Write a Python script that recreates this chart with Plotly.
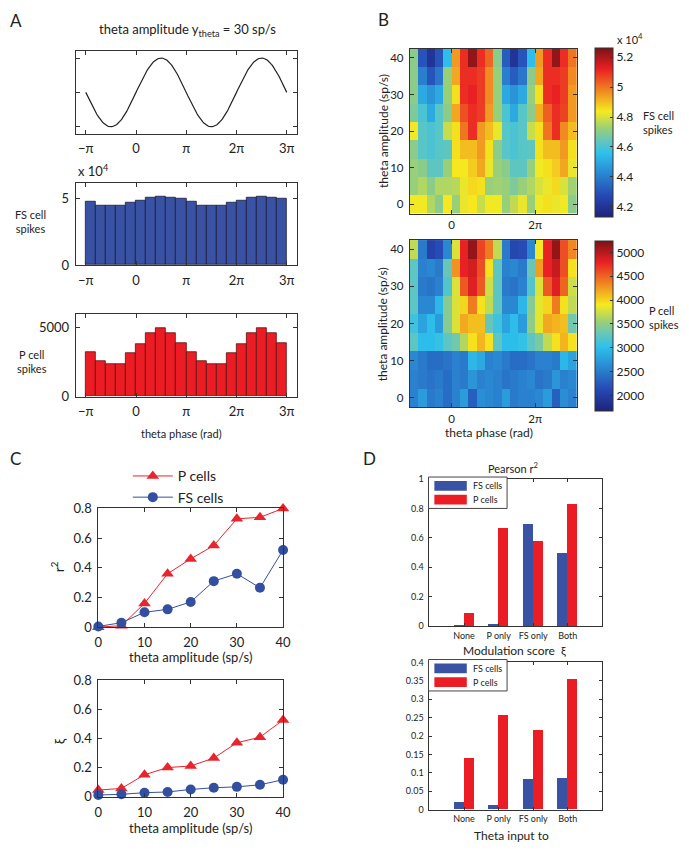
import numpy as np
import plotly.graph_objects as go

W, H = 689, 853
FONT = "Lato"

# ---------------- data ----------------
# Panel A: phase-bin centres (in units of pi) and spike histograms
phase_bins_pi = [-0.9, -0.7, -0.5, -0.3, -0.1, 0.1, 0.3, 0.5, 0.7, 0.9,
                 1.1, 1.3, 1.5, 1.7, 1.9, 2.1, 2.3, 2.5, 2.7, 2.9]
fs_hist = [47600, 44900, 44600, 44900, 47100, 48500, 51000, 51500, 50700, 49800,
           47600, 44900, 44600, 44900, 47100, 48500, 51000, 51500, 50700, 49800]
p_hist = [3170, 2535, 2370, 2370, 3120, 3755, 4575, 4930, 4555, 3875,
          3170, 2535, 2370, 2370, 3120, 3755, 4575, 4930, 4555, 3875]
phase_tick_labels = ["\u2212\u03c0", "0", "\u03c0", "2\u03c0", "3\u03c0"]

# Panel B: theta amplitude rows (sp/s) x phase columns
amp_levels = [0, 5, 10, 15, 20, 25, 30, 35, 40]
fs_heat = [  # x 10^4 spikes
    [4.83, 4.83, 4.75, 4.70, 4.84, 4.72, 4.82, 4.84, 4.78, 4.83, 4.83, 4.72, 4.77, 4.82, 4.72, 4.83, 4.85, 4.82, 4.83, 4.70],
    [4.72, 4.75, 4.70, 4.75, 4.75, 4.76, 4.82, 4.86, 4.85, 4.72, 4.73, 4.72, 4.68, 4.72, 4.75, 4.80, 4.82, 4.86, 4.80, 4.73],
    [4.72, 4.70, 4.63, 4.63, 4.72, 4.84, 4.84, 4.88, 4.93, 4.82, 4.72, 4.70, 4.63, 4.63, 4.72, 4.83, 4.85, 4.88, 4.93, 4.82],
    [4.70, 4.62, 4.60, 4.62, 4.63, 4.85, 4.90, 4.90, 4.95, 4.85, 4.70, 4.62, 4.60, 4.62, 4.63, 4.85, 4.90, 4.90, 4.95, 4.85],
    [4.83, 4.62, 4.60, 4.62, 4.78, 4.85, 5.00, 5.10, 4.95, 4.90, 4.82, 4.62, 4.60, 4.62, 4.78, 4.85, 5.00, 5.10, 4.97, 4.90],
    [4.68, 4.60, 4.50, 4.62, 4.70, 4.93, 5.05, 5.10, 5.08, 4.95, 4.72, 4.60, 4.50, 4.62, 4.70, 4.92, 5.03, 5.10, 5.07, 4.95],
    [4.70, 4.50, 4.45, 4.50, 4.72, 4.85, 5.10, 5.12, 5.08, 4.97, 4.72, 4.50, 4.45, 4.50, 4.72, 4.85, 5.10, 5.12, 5.08, 4.95],
    [4.70, 4.40, 4.30, 4.38, 4.72, 4.93, 5.10, 5.10, 5.08, 4.97, 4.72, 4.40, 4.32, 4.38, 4.70, 4.93, 5.10, 5.10, 5.08, 4.97],
    [4.70, 4.30, 4.20, 4.30, 4.55, 4.95, 5.10, 5.23, 5.10, 5.02, 4.70, 4.32, 4.20, 4.30, 4.55, 4.95, 5.10, 5.23, 5.10, 5.00],
]
p_heat = [
    [2550, 2750, 2500, 2550, 2400, 2550, 2750, 2300, 2650, 2600, 2550, 2750, 2500, 2550, 2550, 2600, 2750, 2300, 2650, 2550],
    [2550, 2500, 2450, 2500, 2400, 2550, 2500, 2700, 2550, 2600, 2550, 2450, 2500, 2550, 2600, 2450, 2500, 2700, 2550, 2600],
    [2600, 2500, 2400, 2400, 2450, 2550, 2500, 2950, 2850, 2550, 2600, 2500, 2400, 2400, 2450, 2550, 2550, 2500, 2950, 2800],
    [3250, 3000, 3000, 3050, 3250, 3350, 3650, 3950, 4150, 3950, 3250, 3000, 3000, 3050, 3250, 3400, 3700, 3950, 4150, 3950],
    [3100, 2800, 3000, 2750, 3450, 3800, 4200, 4100, 4100, 3300, 3100, 2800, 3000, 2750, 3500, 3850, 4200, 4150, 4100, 3350],
    [3250, 2600, 2600, 2950, 3450, 3800, 4000, 4400, 3950, 3700, 3250, 2600, 2600, 2950, 3450, 3850, 4000, 4400, 3950, 3700],
    [3250, 2500, 2450, 2550, 3200, 3800, 4550, 4850, 4550, 3750, 3250, 2500, 2450, 2550, 3200, 3800, 4550, 4850, 4500, 3750],
    [3250, 2550, 2600, 2500, 3300, 4300, 4800, 4900, 4600, 3950, 3250, 2550, 2600, 2500, 3300, 4250, 4800, 4950, 4600, 3950],
    [3700, 2500, 2050, 2150, 2600, 3800, 4800, 5150, 4650, 4400, 3700, 2500, 2100, 2150, 2600, 3900, 4800, 5150, 4600, 4350],
]

# Panel C
amplitudes = [0, 5, 10, 15, 20, 25, 30, 35, 40]
r2_p = [0.0, 0.01, 0.16, 0.36, 0.46, 0.55, 0.73, 0.74, 0.80]
r2_fs = [0.005, 0.03, 0.10, 0.12, 0.17, 0.31, 0.36, 0.265, 0.52]
xi_p = [0.047, 0.058, 0.152, 0.201, 0.212, 0.266, 0.371, 0.409, 0.527]
xi_fs = [0.013, 0.018, 0.029, 0.034, 0.051, 0.063, 0.069, 0.083, 0.118]

# Panel D
input_groups = ["None", "P only", "FS only", "Both"]
pearson_fs = [0.002, 0.016, 0.696, 0.50]
pearson_p = [0.087, 0.669, 0.58, 0.831]
mod_fs = [0.0195, 0.0115, 0.083, 0.084]
mod_p = [0.138, 0.256, 0.215, 0.353]

# ---------------- styling ----------------
BLUE = "#3a52a3"
RED = "#ec1c24"
LINE_RED = "#e8242c"
LINE_BLUE = "#3350a0"
AX = "#333333"
JET = [[0.0, "rgb(30,34,120)"], [0.125, "rgb(38,72,180)"], [0.375, "rgb(45,192,236)"],
       [0.45, "rgb(100,198,188)"], [0.52, "rgb(150,206,125)"], [0.625, "rgb(246,234,30)"],
       [0.875, "rgb(234,32,36)"], [1.0, "rgb(122,18,22)"]]

PI = np.pi
phase_centres = [c * PI for c in phase_bins_pi]
phase_grid = np.linspace(-PI, 3 * PI, 241)
theta_wave = np.sin(phase_grid)


def px(x):
    return x / W


def py(y):
    return 1 - y / H


def axis(x0, x1, y0, y1):
    return [px(x0), px(x1)], [py(y1), py(y0)]


def base(**kw):
    d = dict(showline=True, linecolor=AX, linewidth=1, mirror="ticks", ticks="inside",
             ticklen=4, tickcolor=AX, showgrid=False, zeroline=False,
             ticklabelstandoff=3,
             tickfont=dict(family=FONT, size=13, color="#222"))
    d.update(kw)
    return d


fig = go.Figure()

# ---- Panel A ----
fig.add_trace(go.Scatter(x=phase_grid, y=theta_wave, mode="lines",
                         line=dict(color="#222", width=1.2), showlegend=False,
                         xaxis="x", yaxis="y"))
fig.add_trace(go.Bar(x=phase_centres, y=fs_hist, width=0.2 * PI, offset=-0.1 * PI,
                     marker=dict(color=BLUE, line=dict(color="#1a1a3a", width=0.8)),
                     showlegend=False, xaxis="x2", yaxis="y2"))
fig.add_trace(go.Bar(x=phase_centres, y=p_hist, width=0.2 * PI, offset=-0.1 * PI,
                     marker=dict(color=RED, line=dict(color="#5a1010", width=0.8)),
                     showlegend=False, xaxis="x3", yaxis="y3"))

# ---- Panel B ----
fig.add_trace(go.Heatmap(x=phase_centres, y=amp_levels, z=fs_heat, zmin=4.13, zmax=5.26,
                         colorscale=JET, xaxis="x4", yaxis="y4",
                         colorbar=dict(x=px(601), xanchor="left", xpad=0, y=py(41), yanchor="top",
                                       ypad=0, lenmode="pixels", len=169, thicknessmode="pixels",
                                       thickness=18, outlinewidth=1, outlinecolor=AX,
                                       ticks="inside", ticklen=3, tickcolor=AX,
                                       tickvals=[4.2, 4.4, 4.6, 4.8, 5.0, 5.2],
                                       ticktext=["4.2", "4.4", "4.6", "4.8", "5", "5.2"],
                                       tickfont=dict(family=FONT, size=12, color="#222"))))
fig.add_trace(go.Heatmap(x=phase_centres, y=amp_levels, z=p_heat, zmin=1680, zmax=5250,
                         colorscale=JET, xaxis="x5", yaxis="y5",
                         colorbar=dict(x=px(601), xanchor="left", xpad=0, y=py(237), yanchor="top",
                                       ypad=0, lenmode="pixels", len=170, thicknessmode="pixels",
                                       thickness=18, outlinewidth=1, outlinecolor=AX,
                                       ticks="inside", ticklen=3, tickcolor=AX,
                                       tickvals=[2000, 2500, 3000, 3500, 4000, 4500, 5000],
                                       tickfont=dict(family=FONT, size=12, color="#222"))))

# ---- Panel C ----
for ax_id, yp, yf, show in [("6", r2_p, r2_fs, True), ("7", xi_p, xi_fs, False)]:
    fig.add_trace(go.Scatter(x=amplitudes, y=yp, mode="lines+markers", name="P cells",
                             line=dict(color=LINE_RED, width=1),
                             marker=dict(symbol="triangle-up", size=11, color=LINE_RED),
                             cliponaxis=False, showlegend=show,
                             xaxis="x" + ax_id, yaxis="y" + ax_id))
    fig.add_trace(go.Scatter(x=amplitudes, y=yf, mode="lines+markers", name="FS cells",
                             line=dict(color=LINE_BLUE, width=1),
                             marker=dict(symbol="circle", size=10, color=LINE_BLUE),
                             cliponaxis=False, showlegend=show,
                             xaxis="x" + ax_id, yaxis="y" + ax_id))

# ---- Panel D ----
for ax_id, vf, vp in [("8", pearson_fs, pearson_p), ("9", mod_fs, mod_p)]:
    fig.add_trace(go.Bar(x=input_groups, y=vf, width=0.29, offset=-0.29,
                         marker=dict(color=BLUE, line=dict(width=0)), showlegend=False,
                         xaxis="x" + ax_id, yaxis="y" + ax_id))
    fig.add_trace(go.Bar(x=input_groups, y=vp, width=0.29, offset=0.0,
                         marker=dict(color=RED, line=dict(width=0)), showlegend=False,
                         xaxis="x" + ax_id, yaxis="y" + ax_id))

# ---------------- axes ----------------
phase_ticks = [-PI, 0, PI, 2 * PI, 3 * PI]
layout_axes = {}

specs = {
    "": (73, 298, 44, 128),
    "2": (73, 298, 178, 262),
    "3": (73, 298, 312, 396),
    "4": (413, 583, 41.5, 209.5),
    "5": (413, 583, 236.5, 406.5),
    "6": (96, 284, 510, 631),
    "7": (96, 284, 685, 804),
    "8": (433, 609, 480, 630),
    "9": (433, 609, 667, 817),
}
for k, (x0, x1, y0, y1) in specs.items():
    xd, yd = axis(x0, x1, y0, y1)
    layout_axes["xaxis" + k] = dict(domain=xd, anchor="y" + k)
    layout_axes["yaxis" + k] = dict(domain=yd, anchor="x" + k)

# Panel A axes
for k in ["", "2", "3"]:
    layout_axes["xaxis" + k].update(base(range=[-1.2 * PI, 3.2 * PI], tickvals=phase_ticks,
                                         ticktext=phase_tick_labels))
layout_axes["yaxis"].update(base(range=[-1.2, 1.2], tickvals=[-1, 0, 1], showticklabels=False))
layout_axes["yaxis2"].update(base(range=[0, 62000], tickvals=[0, 50000], ticktext=["0", "5"]))
layout_axes["yaxis3"].update(base(range=[0, 5940], tickvals=[0, 5000]))

# Panel B axes
bfont = dict(family=FONT, size=11.5, color="#222")
for k in ["4", "5"]:
    layout_axes["xaxis" + k].update(base(range=[-PI, 3 * PI], tickvals=[0, 2 * PI],
                                         ticktext=["0", "2\u03c0"], tickfont=bfont,
                                         ticklabelstandoff=1))
    layout_axes["yaxis" + k].update(base(range=[-2.5, 42.5], tickvals=[0, 10, 20, 30, 40],
                                         tickfont=bfont))

# Panel C axes
for k in ["6", "7"]:
    layout_axes["xaxis" + k].update(base(range=[0, 40], tickvals=[0, 10, 20, 30, 40]))
    layout_axes["yaxis" + k].update(base(range=[0, 0.8], tickvals=[0, 0.2, 0.4, 0.6, 0.8]))

# Panel D axes
dfont = dict(family=FONT, size=9, color="#222")
for k in ["8", "9"]:
    layout_axes["xaxis" + k].update(base(type="category", range=[-1, 4], tickfont=dfont,
                                         ticklen=3, ticklabelstandoff=1))
layout_axes["yaxis8"].update(base(range=[0, 1], tickvals=[0, 0.2, 0.4, 0.6, 0.8, 1],
                                  tickfont=dfont, ticklen=3))
layout_axes["yaxis9"].update(base(range=[0, 0.4], dtick=0.05, tick0=0, tickfont=dfont, ticklen=3))

# ---------------- annotations & shapes ----------------
ann = []


def text(x, y, s, size=12, xanchor="center", yanchor="middle", angle=0, align="center"):
    ann.append(dict(x=px(x), y=py(y), xref="paper", yref="paper", text=s, showarrow=False,
                    xanchor=xanchor, yanchor=yanchor, textangle=angle, align=align,
                    font=dict(family=FONT, size=size, color="#222")))


# panel letters
text(12, 13, "A", 17)
text(386, 12, "B", 17)
text(12, 459, "C", 17)
text(372, 459, "D", 17)

# Panel A
text(187, 22, "theta amplitude y<sub>theta</sub> = 30 sp/s", 13)
text(73, 166, "x 10<sup>4</sup>", 13, xanchor="left")
text(27, 218, "FS cell<br>spikes", 11)
text(29, 360, "P cell<br>spikes", 11)
text(181, 434, "theta phase (rad)", 11)

# Panel B
text(386, 125, "theta amplitude (sp/s)", 12, angle=-90)
text(386, 322, "theta amplitude (sp/s)", 12, angle=-90)
text(622, 31, "x 10<sup>4</sup>", 11, xanchor="left")
text(648, 117, "FS cell<br>spikes", 11, xanchor="left", align="left")
text(654, 315, "P cell<br>spikes", 11, xanchor="left", align="left")
text(494, 433, "theta phase (rad)", 12)

# Panel C
text(190, 661, "theta amplitude (sp/s)", 13)
text(190, 836, "theta amplitude (sp/s)", 13)
text(54, 570, "r<sup>2</sup>", 14, angle=-90)
text(57, 747, "\u03be", 13, angle=-90)

# Panel D
text(519, 468, "Pearson r<sup>2</sup>", 11)
text(520, 655, "Modulation score  \u03be", 12)
text(517, 843, "Theta input to", 12)

shapes = []


def rect(x0, y0, x1, y1, fill=None, line="#444", lw=1):
    shapes.append(dict(type="rect", xref="paper", yref="paper",
                       x0=px(x0), x1=px(x1), y0=py(y1), y1=py(y0),
                       fillcolor=fill if fill else "rgba(0,0,0,0)",
                       line=dict(color=line, width=lw)))


for top in [478, 664]:
    rect(432, top, 512, top + 32, fill="white", line="#444")
    rect(438, top + 4, 471, top + 14, fill=BLUE, line=BLUE, lw=0)
    rect(438, top + 18, 471, top + 28, fill=RED, line=RED, lw=0)
    text(475, top + 9, "FS cells", 9, xanchor="left")
    text(475, top + 23, "P cells", 9, xanchor="left")

fig.update_layout(
    width=W, height=H, margin=dict(l=0, r=0, t=0, b=0),
    paper_bgcolor="white", plot_bgcolor="white",
    font=dict(family=FONT, size=12, color="#222"),
    annotations=ann, shapes=shapes,
    legend=dict(x=px(126), y=py(461), xanchor="left", yanchor="top",
                bgcolor="rgba(0,0,0,0)", itemwidth=40, tracegroupgap=0,
                font=dict(family=FONT, size=14, color="#222")),
    bargap=0,
    **layout_axes,
)

fig.write_html("out.html", config={"displayModeBar": False},
               post_script="document.body.style.margin='0';"
                           "document.documentElement.style.overflow='hidden';")
